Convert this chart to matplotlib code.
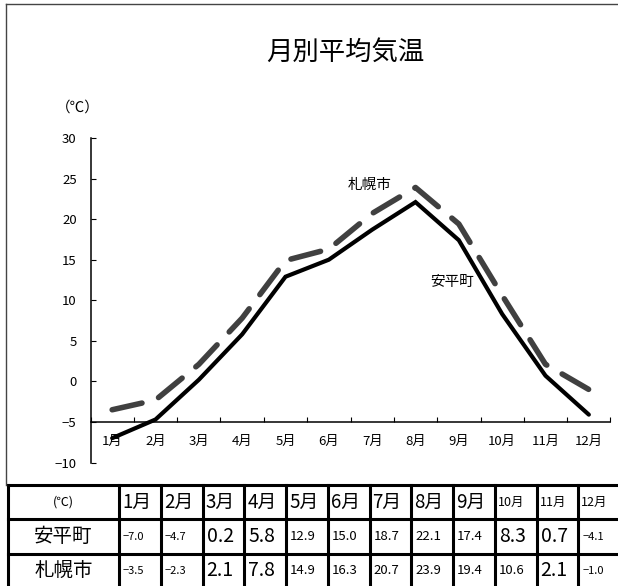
import numpy as np
import matplotlib.pyplot as plt

plt.rcParams['font.family'] = ['Noto Sans CJK JP', 'DejaVu Sans']

months = ['1月', '2月', '3月', '4月', '5月', '6月',
          '7月', '8月', '9月', '10月', '11月', '12月']
abira = [-7.0, -4.7, 0.2, 5.8, 12.9, 15.0, 18.7, 22.1, 17.4, 8.3, 0.7, -4.1]
sapporo = [-3.5, -2.3, 2.1, 7.8, 14.9, 16.3, 20.7, 23.9, 19.4, 10.6, 2.1, -1.0]
row_names = ['安平町', '札幌市']
unit = '(℃)'
yticks = [-10, -5, 0, 5, 10, 15, 20, 25, 30]

# 表の文字サイズ
month_fs = [13.5] * 9 + [9] * 3
abira_fs = [8, 8, 14, 14, 9.5, 9.5, 9.5, 9.5, 9.5, 14, 14, 8]
sapporo_fs = [8, 8, 14, 14, 9.5, 9.5, 9.5, 9.5, 9.5, 9.5, 14, 8]

W, H = 618, 586
fig = plt.figure(figsize=(W / 100, H / 100), dpi=100)

# 外枠
fig.add_artist(plt.Line2D([5.5 / W, 5.5 / W], [1 - 3.5 / H, 1 - 485 / H],
                          color='#444444', lw=1))
fig.add_artist(plt.Line2D([5.5 / W, 1.0], [1 - 3.5 / H, 1 - 3.5 / H],
                          color='#444444', lw=1))

fig.text(345 / W, 1 - 52 / H, '月別平均気温', fontsize=19,
         ha='center', va='center')
fig.text(78 / W, 1 - 108 / H, '（℃）', fontsize=10.5, ha='center', va='center')

# グラフ
ax = fig.add_axes([90.5 / W, 1 - 462.5 / H, 520 / W, 324.5 / H])
x = np.arange(12)
ax.plot(x, sapporo, color='#404040', lw=4, ls=(0, (5.5, 3.2)),
        dash_capstyle='round', dash_joinstyle='round')
ax.plot(x, abira, color='black', lw=3, solid_capstyle='round',
        solid_joinstyle='miter')
ax.set_xlim(-0.5, 11.5)
ax.set_ylim(-10, 30)
for s in ['top', 'right']:
    ax.spines[s].set_visible(False)
ax.spines['bottom'].set_position(('data', -5))
ax.spines['bottom'].set_linewidth(1.1)
ax.spines['left'].set_linewidth(1.1)
ax.set_yticks(yticks)
ax.tick_params(axis='y', direction='in', length=3.5, pad=10, labelsize=9.5)
ax.set_xticks(np.arange(-0.5, 12, 1))
ax.set_xticks(x, months, minor=True)
ax.tick_params(axis='x', which='major', direction='in', length=3.5,
               labelbottom=False)
ax.tick_params(axis='x', which='minor', length=0, pad=9, labelsize=9.5)
ax.set_yticklabels([str(v).replace('-', '−') for v in yticks])

ax.text(5.95, 24.2, '札幌市', fontsize=10.5, ha='center', va='center')
ax.text(7.84, 12.3, '安平町', fontsize=10.5, ha='center', va='center')

# 表
tax = fig.add_axes([8 / W, 1 - 588 / H, 612 / W, 103 / H])
col_w0, col_w = 111, 41.75
edges = np.concatenate([[0], col_w0 + np.arange(13) * col_w])
tax.set_xlim(0, edges[-1])
tax.set_ylim(3, 0)
tax.axis('off')
for e in edges:
    tax.plot([e, e], [0, 3], color='black', lw=2.2, clip_on=False)
for r in range(4):
    tax.plot([0, edges[-1]], [r, r], color='black', lw=2.2, clip_on=False)

tax.text(col_w0 / 2, 0.5, unit, fontsize=9, ha='center', va='center')
for i, m in enumerate(months):
    tax.text(edges[i + 1] + 3, 0.5, m, fontsize=month_fs[i],
             ha='left', va='center')
for r, (name, vals, sizes) in enumerate(zip(row_names, [abira, sapporo],
                                            [abira_fs, sapporo_fs])):
    tax.text(col_w0 / 2, r + 1.5, name, fontsize=14, ha='center', va='center')
    for i, v in enumerate(vals):
        tax.text(edges[i + 1] + 4, r + 1.5, f'{v:.1f}'.replace('-', '−'),
                 fontsize=sizes[i], ha='left', va='center')

fig.savefig('out.png', dpi=100)
